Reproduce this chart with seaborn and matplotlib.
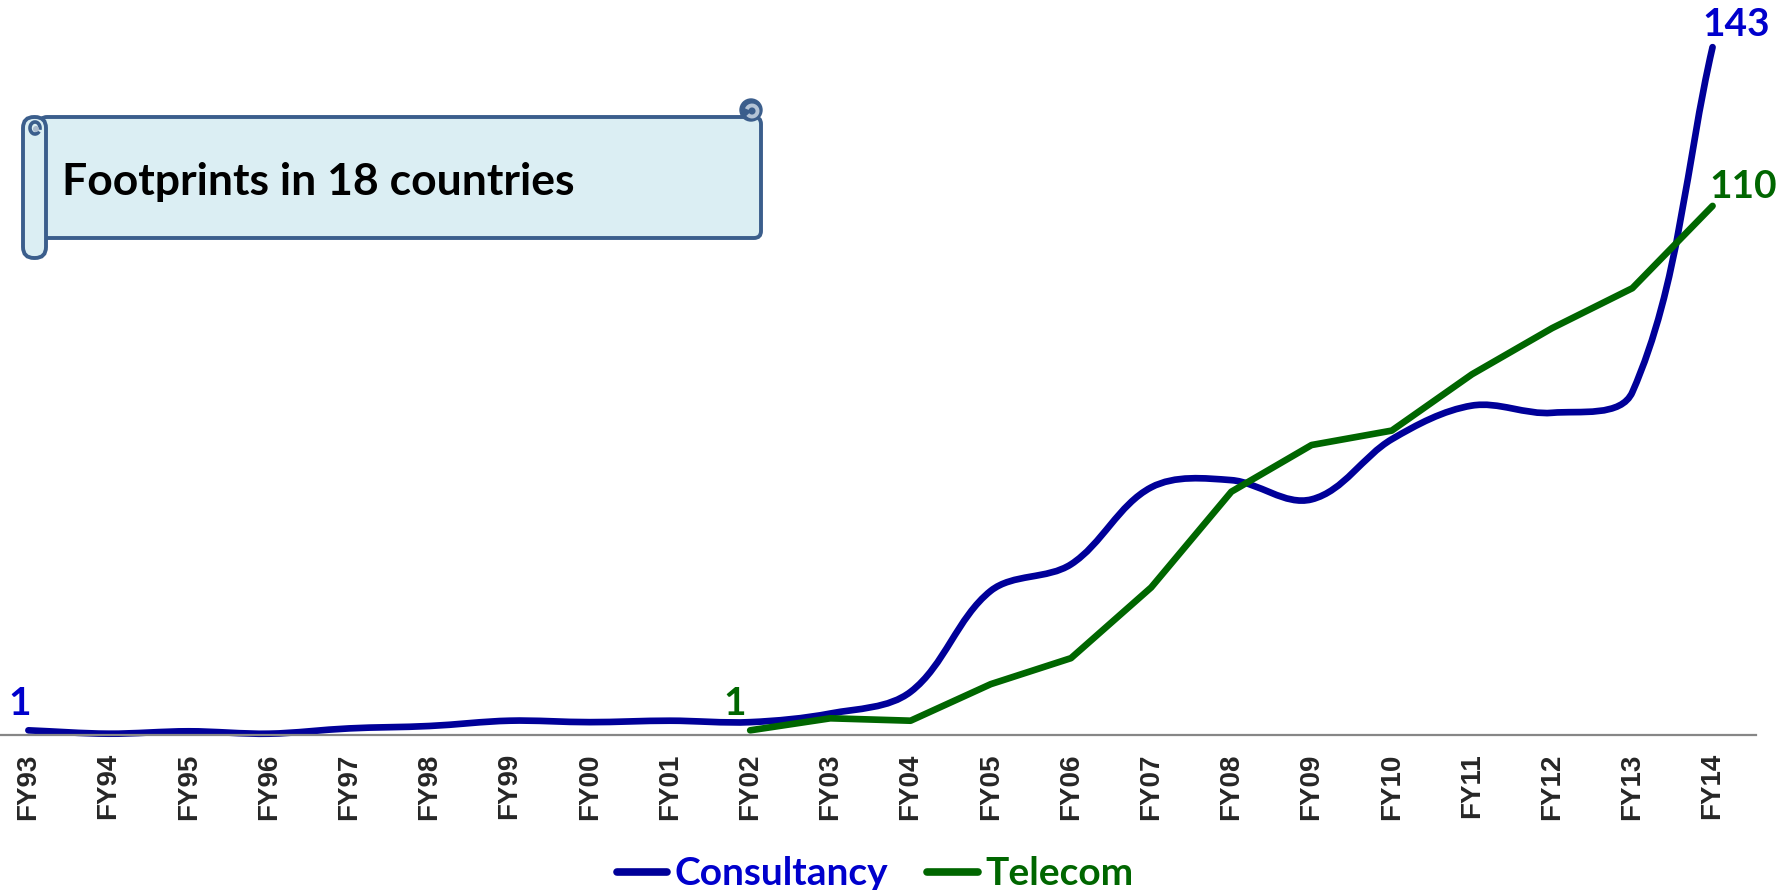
import numpy as np
import pandas as pd
import matplotlib
matplotlib.use("Agg")
import matplotlib.pyplot as plt
import seaborn as sns
from matplotlib.path import Path
from matplotlib.patches import PathPatch, FancyBboxPatch, Circle, Arc
from matplotlib.lines import Line2D

# data
years = ["FY93", "FY94", "FY95", "FY96", "FY97", "FY98", "FY99", "FY00", "FY01", "FY02", "FY03",
         "FY04", "FY05", "FY06", "FY07", "FY08", "FY09", "FY10", "FY11", "FY12", "FY13", "FY14"]
consultancy = [1, 0.3, 0.8, 0.3, 1.4, 1.9, 3.0, 2.7, 3.0, 2.7, 4.5,
               9.0, 30.0, 35.5, 51.5, 53.0, 49.0, 61.5, 68.5, 67.0, 71.3, 143]
telecom_years = years[9:]
telecom = [1, 3.5, 3.0, 10.6, 16.0, 30.7, 50.6, 60.3, 63.3, 75.0, 84.6, 92.9, 110]

BLUE_LINE = "#000099"
BLUE_TEXT = "#0000CC"
GREEN = "#006600"
FONT = ["Lato", "DejaVu Sans"]

sns.set_style("white")
plt.rcParams["font.family"] = FONT

fig = plt.figure(figsize=(17.79, 8.90), dpi=100)
ax = fig.add_axes([0, 0.174, 0.987, 0.826])
XLIM = (-0.354, 21.54)
YLIM = (0, 152.8)

xi = {y: i for i, y in enumerate(years)}
df_tel = pd.DataFrame({"x": [xi[y] for y in telecom_years], "value": telecom})
sns.lineplot(data=df_tel, x="x", y="value", color=GREEN, lw=4.8, ax=ax,
             solid_capstyle="round", solid_joinstyle="round", clip_on=False)


def smooth_path(xs, ys):
    # Excel-like smoothed line: tangents taken in screen space,
    # handle length = one third of the segment length
    sx = 1756.0 / (XLIM[1] - XLIM[0])
    sy = 735.0 / (YLIM[1] - YLIM[0])
    pts = np.column_stack([np.asarray(xs, float) * sx, np.asarray(ys, float) * sy])
    n = len(pts)
    tang = []
    for i in range(n):
        d = pts[min(i + 1, n - 1)] - pts[max(i - 1, 0)]
        tang.append(d / np.hypot(*d))
    verts = [pts[0]]
    codes = [Path.MOVETO]
    for i in range(n - 1):
        L = np.hypot(*(pts[i + 1] - pts[i])) / 3.0
        verts += [pts[i] + tang[i] * L, pts[i + 1] - tang[i + 1] * L, pts[i + 1]]
        codes += [Path.CURVE4] * 3
    verts = np.array(verts) / [sx, sy]
    return Path(verts, codes)


ax.add_patch(PathPatch(smooth_path(range(len(years)), consultancy), fill=False,
                       edgecolor=BLUE_LINE, lw=4.8, capstyle="round", joinstyle="round",
                       clip_on=False))

ax.set_xlim(*XLIM)
ax.set_ylim(*YLIM)
ax.set_xticks(range(len(years)))
ax.set_xticklabels(years, rotation=90, fontsize=20, fontweight="bold",
                   family=["Liberation Sans", "DejaVu Sans"])
ax.tick_params(axis="x", length=0, pad=13)
ax.set_yticks([])
ax.set_xlabel("")
ax.set_ylabel("")
for s in ["top", "left", "right"]:
    ax.spines[s].set_visible(False)
ax.spines["bottom"].set_color("#868686")
ax.spines["bottom"].set_linewidth(1.6)

# end labels
lab_kw = dict(textcoords="offset points", ha="center", va="center",
              fontsize=28, fontweight="bold")
ax.annotate(str(consultancy[0]), (0, consultancy[0]), xytext=(-6, 19), color=BLUE_TEXT, **lab_kw)
ax.annotate(str(consultancy[-1]), (21, consultancy[-1]), xytext=(17, 16), color=BLUE_TEXT, **lab_kw)
ax.annotate(str(telecom[0]), (xi[telecom_years[0]], telecom[0]), xytext=(-11, 19), color=GREEN, **lab_kw)
ax.annotate(str(telecom[-1]), (21, telecom[-1]), xytext=(22, 14), color=GREEN, **lab_kw)

# scroll banner, drawn in pixel space on an overlay axes
ov = fig.add_axes([0, 0, 1, 1], zorder=5)
ov.set_xlim(0, 1779)
ov.set_ylim(890, 0)
ov.axis("off")
edge = "#3B5E8C"
fill = "#DBEEF3"
ov.add_patch(FancyBboxPatch((40, 117), 721, 121, boxstyle="round,pad=0,rounding_size=7",
                            fc=fill, ec=edge, lw=2.8))
ov.add_patch(Circle((751, 110), 11, fc=edge, ec=edge, lw=1))
ov.add_patch(Arc((752, 111), 11, 11, theta1=200, theta2=500, ec="#B4C4D6", lw=2.8))
ov.add_patch(FancyBboxPatch((23, 117), 23, 141, boxstyle="round,pad=0,rounding_size=11",
                            fc=fill, ec=edge, lw=2.8))
ov.add_patch(Arc((35, 128), 10, 12, theta1=40, theta2=380, ec=edge, lw=2.6))
ov.add_patch(Circle((36, 129), 3, fc="#A9B9CC", ec="none"))
ov.text(62, 182, "Footprints in 18 countries", fontsize=32, fontweight="bold",
        color="black", va="center", ha="left")

handles = [Line2D([0], [0], color=BLUE_LINE, lw=5.5, solid_capstyle="round"),
           Line2D([0], [0], color=GREEN, lw=5.5, solid_capstyle="round")]
fig.legend(handles, ["Consultancy", "Telecom"], loc="center", bbox_to_anchor=(0.492, 0.018),
           ncol=2, frameon=False, handlelength=1.3, handletextpad=0.2, columnspacing=1.0,
           borderpad=0, prop={"weight": "bold", "size": 28},
           labelcolor=[BLUE_TEXT, GREEN])

fig.savefig("out.png", dpi=100)
